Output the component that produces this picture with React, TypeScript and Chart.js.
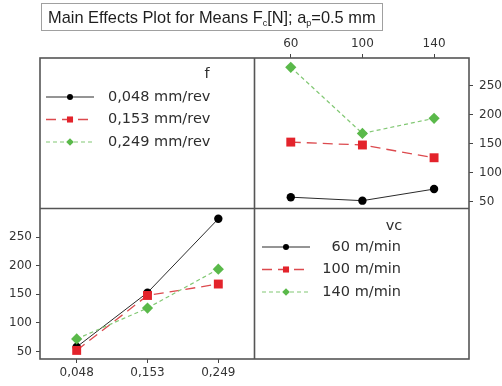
import React, { useEffect, useRef } from 'react';
import { Chart, registerables } from 'chart.js';

Chart.register(...registerables);

// Feed rates f (categories of the bottom-left panel)
const fLabels = ['0,048', '0,153', '0,249'];
const fLegend = ['0,048 mm/rev', '0,153 mm/rev', '0,249 mm/rev'];
// Cutting speeds vc (x values of the top-right panel)
const vcValues = [60, 100, 140];
const vcLegend = ['60 m/min', '100 m/min', '140 m/min'];
const yTicks = [50, 100, 150, 200, 250];
// Mean Fc [N] for each f, across vc = 60 / 100 / 140
const fc048 = [58, 52, 72];
const fc153 = [153, 148, 126];
const fc249 = [282, 168, 194];

const rows = [fc048, fc153, fc249];

const styles = [
  { line: '#2a2a2a', point: '#000000', dash: [] as number[], shape: 'circle', r: 4.2, lr: 3, lw: 1 },
  { line: '#dc4a4e', point: '#e3232b', dash: [10, 6], shape: 'rect', r: 6.3, lr: 4.3, lw: 1.3 },
  { line: '#82c874', point: '#5ab94a', dash: [4, 3], shape: 'rectRot', r: 5.6, lr: 3.8, lw: 1.2 },
];

const TICK_FONT = { family: 'DejaVu Sans', size: 12 };
const TICK_COLOR = '#333333';
const FRAME = '#555555';

function drawMarker(ctx: CanvasRenderingContext2D, shape: string, x: number, y: number, r: number, color: string) {
  ctx.save();
  ctx.setLineDash([]);
  ctx.fillStyle = color;
  ctx.beginPath();
  if (shape === 'circle') {
    ctx.arc(x, y, r, 0, Math.PI * 2);
  } else if (shape === 'rect') {
    const s = Math.SQRT1_2 * r;
    ctx.rect(x - s, y - s, 2 * s, 2 * s);
  } else {
    ctx.moveTo(x - r, y);
    ctx.lineTo(x, y - r);
    ctx.lineTo(x + r, y);
    ctx.lineTo(x, y + r);
    ctx.closePath();
  }
  ctx.fill();
  ctx.restore();
}

function drawLegendRow(
  ctx: CanvasRenderingContext2D,
  x0: number,
  x1: number,
  y: number,
  st: typeof styles[number],
  text: string,
  tx: number,
  align: CanvasTextAlign
) {
  ctx.save();
  ctx.strokeStyle = st.line;
  ctx.lineWidth = st.lw;
  ctx.setLineDash(st.dash);
  ctx.beginPath();
  ctx.moveTo(x0, y);
  ctx.lineTo(x1, y);
  ctx.stroke();
  ctx.restore();
  drawMarker(ctx, st.shape, (x0 + x1) / 2, y, st.lr, st.point);
  ctx.save();
  ctx.fillStyle = '#2e2e2e';
  ctx.font = '14.5px "DejaVu Sans"';
  ctx.textAlign = align;
  ctx.textBaseline = 'middle';
  ctx.fillText(text, tx, y);
  ctx.restore();
}

const framePlugin = {
  id: 'matrixFrame',
  beforeDatasetsDraw(chart: any) {
    const { ctx, chartArea: a } = chart;
    const dx = a.left + a.width / 2;
    const dy = a.top + a.height / 2;
    ctx.save();
    ctx.strokeStyle = FRAME;
    ctx.lineWidth = 1.6;
    ctx.strokeRect(a.left, a.top, a.width, a.height);
    ctx.beginPath();
    ctx.moveTo(dx, a.top);
    ctx.lineTo(dx, a.bottom);
    ctx.moveTo(a.left, dy);
    ctx.lineTo(a.right, dy);
    ctx.stroke();
    ctx.restore();
  },
  afterDraw(chart: any) {
    const { ctx } = chart;
    // Legends
    ctx.save();
    ctx.fillStyle = '#2e2e2e';
    ctx.font = '14.5px "DejaVu Sans"';
    ctx.textAlign = 'center';
    ctx.textBaseline = 'middle';
    ctx.fillText('f', 207, 74);
    ctx.fillText('vc', 394, 226);
    ctx.restore();
    const fy = [97, 119.5, 142];
    fLegend.forEach((t, i) => drawLegendRow(ctx, 46, 94, fy[i], styles[i], t, 108, 'left'));
    const vy = [247, 269.5, 292];
    vcLegend.forEach((t, i) => drawLegendRow(ctx, 262, 310, vy[i], styles[i], t, 401, 'right'));

    // Title box
    ctx.save();
    ctx.strokeStyle = '#a0a0a0';
    ctx.lineWidth = 1;
    ctx.strokeRect(41.5, 3.5, 341, 27);
    ctx.fillStyle = '#1e1e1e';
    ctx.textBaseline = 'alphabetic';
    ctx.textAlign = 'left';
    const big = '16.4px "Liberation Sans"';
    const small = '9px "Liberation Sans"';
    const parts: [string, boolean][] = [
      ['Main Effects Plot for Means F', false],
      ['c', true],
      ['[N]; a', false],
      ['p', true],
      ['=0.5 mm', false],
    ];
    let x = 48;
    const base = 23;
    parts.forEach(([s, sub]) => {
      ctx.font = sub ? small : big;
      ctx.fillText(s, x, sub ? base + 2.5 : base);
      x += ctx.measureText(s).width;
    });
    ctx.restore();
  },
};

export default function App() {
  const ref = useRef<HTMLCanvasElement | null>(null);

  useEffect(() => {
    if (!ref.current) return;

    const topRight = rows.map((row, i) => ({
      label: fLegend[i],
      data: vcValues.map((v, j) => ({ x: v, y: row[j] })),
      xAxisID: 'xT',
      yAxisID: 'yR',
      borderColor: styles[i].line,
      borderWidth: styles[i].lw,
      borderDash: styles[i].dash,
      pointStyle: styles[i].shape,
      pointRadius: styles[i].r,
      pointBackgroundColor: styles[i].point,
      pointBorderWidth: 0,
      showLine: true,
      fill: false,
    }));

    const bottomLeft = vcValues.map((v, j) => ({
      label: vcLegend[j],
      data: fLabels.map((_, i) => ({ x: i, y: rows[i][j] })),
      xAxisID: 'xB',
      yAxisID: 'yL',
      borderColor: styles[j].line,
      borderWidth: styles[j].lw,
      borderDash: styles[j].dash,
      pointStyle: styles[j].shape,
      pointRadius: styles[j].r,
      pointBackgroundColor: styles[j].point,
      pointBorderWidth: 0,
      showLine: true,
      fill: false,
    }));

    const common = {
      grid: { drawOnChartArea: false, tickLength: 4, color: '#444444', lineWidth: 1 },
      border: { display: false },
    };

    const chart = new Chart(ref.current, {
      type: 'scatter',
      data: { datasets: [...bottomLeft.reverse(), ...topRight.reverse()] as any },
      options: {
        animation: false,
        responsive: false,
        layout: { padding: 0 },
        plugins: { legend: { display: false }, tooltip: { enabled: false }, title: { display: false } },
        scales: {
          xT: {
            type: 'linear',
            position: 'top',
            min: -80,
            max: 159.5,
            afterBuildTicks: (s: any) => { s.ticks = vcValues.map((v) => ({ value: v })); },
            afterFit: (s: any) => { s.height = 58; },
            ticks: { font: TICK_FONT, color: TICK_COLOR, padding: 3, maxRotation: 0, autoSkip: false },
            ...common,
          },
          xB: {
            type: 'linear',
            position: 'bottom',
            min: -0.518,
            max: 5.54,
            afterBuildTicks: (s: any) => { s.ticks = fLabels.map((_, i) => ({ value: i })); },
            afterFit: (s: any) => { s.height = 27; },
            ticks: {
              font: TICK_FONT,
              color: TICK_COLOR,
              padding: 3,
              maxRotation: 0,
              autoSkip: false,
              callback: (v: any) => fLabels[Math.round(Number(v))] ?? '',
            },
            ...common,
          },
          yL: {
            type: 'linear',
            position: 'left',
            min: 37,
            max: 563,
            afterBuildTicks: (s: any) => { s.ticks = yTicks.map((v) => ({ value: v })); },
            afterFit: (s: any) => { s.width = 40; },
            ticks: { font: TICK_FONT, color: TICK_COLOR, padding: 4, autoSkip: false },
            ...common,
          },
          yR: {
            type: 'linear',
            position: 'right',
            min: -221,
            max: 298,
            afterBuildTicks: (s: any) => { s.ticks = yTicks.map((v) => ({ value: v })); },
            afterFit: (s: any) => { s.width = 33; },
            ticks: { font: TICK_FONT, color: TICK_COLOR, padding: 6, autoSkip: false },
            ...common,
          },
        },
      } as any,
      plugins: [framePlugin],
    });

    return () => chart.destroy();
  }, []);

  return (
    <div style={{ position: 'absolute', left: 0, top: 0, width: 502, height: 386, background: '#ffffff' }}>
      <canvas ref={ref} width={502} height={386} style={{ display: 'block', width: 502, height: 386 }} />
    </div>
  );
}
